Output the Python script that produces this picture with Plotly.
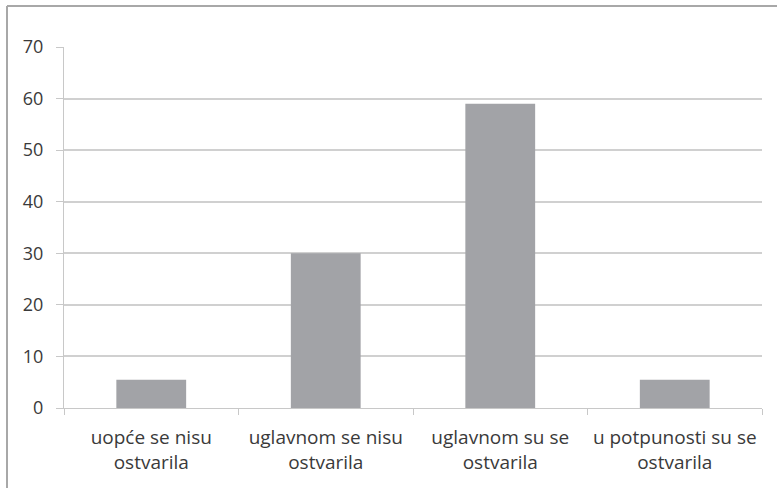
import plotly.graph_objects as go

categories = ["uopće se nisu<br>ostvarila", "uglavnom se nisu<br>ostvarila",
              "uglavnom su se<br>ostvarila", "u potpunosti su se<br>ostvarila"]
values = [5.5, 30, 59, 5.5]
y_ticks = [0, 10, 20, 30, 40, 50, 60, 70]

W, H = 777, 488
L, R, T, B = 64, 15, 47, 80
pw = W - L - R
ph = H - T - B

def px_x(p):
    return (p - L) / pw

def px_y(p):
    return (H - B - p) / ph

fig = go.Figure(go.Bar(x=categories, y=values, marker=dict(color="#a2a3a7", line=dict(width=0)),
                       width=0.4, hoverinfo="skip"))

fig.update_layout(
    width=W, height=H,
    margin=dict(l=L, r=R, t=T, b=B),
    paper_bgcolor="white", plot_bgcolor="white",
    font=dict(family="Open Sans", size=18, color="#3a3a3a"),
    showlegend=False,
    bargap=0.6,
    xaxis=dict(showgrid=False, showline=True, linecolor="#c8c8c8", linewidth=1,
               ticks="outside", tickson="boundaries", ticklen=6, tickcolor="#c8c8c8",
               ticklabelstandoff=12, tickfont=dict(size=19)),
    yaxis=dict(range=[0, 70], tickvals=y_ticks, showgrid=True, gridcolor="#d0d0d0", gridwidth=1.5,
               showline=True, linecolor="#c8c8c8", linewidth=1, zeroline=False,
               ticks="outside", ticklen=7, tickcolor="#c8c8c8", ticklabelstandoff=9,
               tickfont=dict(size=18)),
    shapes=[
        dict(type="line", xref="paper", yref="paper", x0=px_x(7), x1=px_x(W), y0=px_y(6), y1=px_y(6),
             line=dict(color="#a8a8a8", width=2)),
        dict(type="line", xref="paper", yref="paper", x0=px_x(7), x1=px_x(7), y0=px_y(6), y1=px_y(H),
             line=dict(color="#a8a8a8", width=2)),
    ],
)

fig.write_html("out.html", config={"displayModeBar": False},
               post_script="document.body.style.margin='0';document.body.style.overflow='hidden';")
